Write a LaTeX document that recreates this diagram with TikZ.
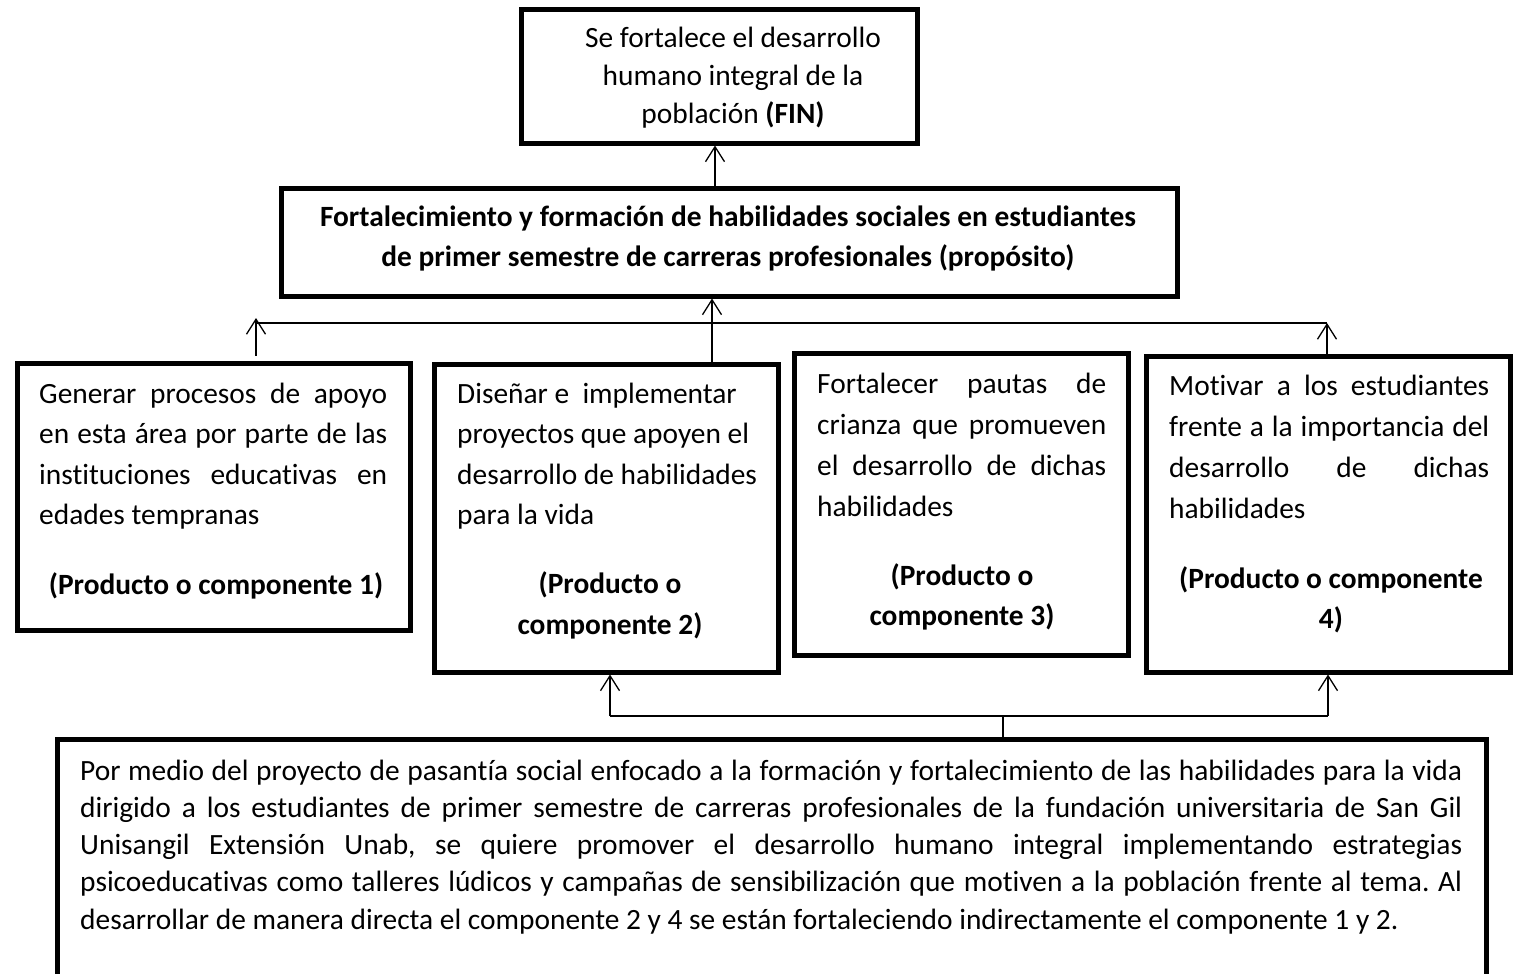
\documentclass[tikz,border=0pt]{standalone}
\usepackage{fontspec}
\setmainfont{Carlito}[Ligatures=CommonOff]
\usetikzlibrary{arrows.meta}
\newcommand{\jline}[2]{\makebox[#1][s]{#2}}
\frenchspacing
\begin{document}
\frenchspacing
\begin{tikzpicture}[x=1pt,y=-1pt,
  box/.style={draw, line width=5pt, inner sep=0pt, line join=miter},
  txt/.style={inner sep=0pt, anchor=base west},
  ctr/.style={inner sep=0pt, anchor=base, font=\fontsize{29.4}{40}\selectfont\bfseries},
  conn/.style={line width=1.3pt},
  arr/.style={line width=1.3pt, -{Straight Barb[length=15pt,width=19pt,line width=1.3pt]}}]
\useasboundingbox (0,0) rectangle (1516,974);
\fill[white] (0,0) rectangle (1516,974);
\begin{scope}
\clip (0,0) rectangle (1516,974);
% boxes
\node[box, minimum width=396pt, minimum height=133pt] (T) at (719,76.5) {};
\node[box, minimum width=896pt, minimum height=108pt] (P) at (729,242) {};
\node[box, minimum width=393pt, minimum height=267pt] (B1) at (213.5,496.5) {};
\node[box, minimum width=344pt, minimum height=308pt] (B2) at (606,518) {};
\node[box, minimum width=334pt, minimum height=302pt] (B3) at (961,504) {};
\node[box, minimum width=364pt, minimum height=316pt] (B4) at (1328,514) {};
\node[box, minimum width=1429pt, minimum height=300pt] (B5) at (771.5,889) {};
\end{scope}
% helper coordinates
\coordinate (xA) at (715,0);
\coordinate (xB) at (712,0);
\coordinate (hL) at (256,323);
\coordinate (hR) at (1327,323);
\coordinate (bm) at (1003,716);
\coordinate (bl) at (610,716);
\coordinate (br) at (1328,716);
% texts
\node[inner sep=0pt, anchor=base] (tT) at (733,48) {\parbox[t]{390pt}{\centering\fontsize{29.4}{38}\selectfont Se fortalece el desarrollo\\ humano integral de la\\ población \textbf{(FIN)}}};
\node[inner sep=0pt, anchor=base] (tP) at (728,226) {\parbox[t]{880pt}{\centering\bfseries\fontsize{29.4}{40}\selectfont Fortalecimiento y formación de habilidades sociales en estudiantes\\ de primer semestre de carreras profesionales (propósito)}};
\node[txt] (t1) at (39,403) {\parbox[t]{348pt}{\fontsize{29.4}{40.5}\selectfont
  \jline{348pt}{Generar procesos de apoyo}\\
  \jline{348pt}{en esta área por parte de las}\\
  \jline{348pt}{instituciones educativas en}\\
  edades tempranas}};
\node[ctr] (p1) at (216,594) {(Producto o componente 1)};
\node[txt] (t2) at (457,403) {\parbox[t]{320pt}{\fontsize{29.4}{40.5}\selectfont
  Diseñar e~\ implementar\\
  proyectos que apoyen el\\
  desarrollo de habilidades\\
  para la vida}};
\node[ctr] (p2a) at (610,593) {(Producto o};
\node[ctr] (p2b) at (610,634) {componente 2)};
\node[txt] (t3) at (817,393) {\parbox[t]{289pt}{\fontsize{29.4}{41}\selectfont
  \jline{289pt}{Fortalecer pautas de}\\
  \jline{289pt}{crianza que promueven}\\
  \jline{289pt}{el desarrollo de dichas}\\
  habilidades}};
\node[ctr] (p3a) at (962,585) {(Producto o};
\node[ctr] (p3b) at (962,625) {componente 3)};
\node[txt] (t4) at (1169,395) {\parbox[t]{320pt}{\fontsize{29.4}{41}\selectfont
  \jline{320pt}{Motivar a los estudiantes}\\
  \jline{320pt}{frente a la importancia del}\\
  \jline{320pt}{desarrollo de dichas}\\
  habilidades}};
\node[ctr] (p4a) at (1331,588) {(Producto o componente};
\node[ctr] (p4b) at (1331,628) {4)};
\node[txt] (t5) at (80,780) {\parbox[t]{1382pt}{\fontsize{29.4}{37.3}\selectfont
  \jline{1382pt}{Por medio del proyecto de pasantía social enfocado a la formación y fortalecimiento de las habilidades para la vida}\\
  \jline{1382pt}{dirigido a los estudiantes de primer semestre de carreras profesionales de la fundación universitaria de San Gil}\\
  \jline{1382pt}{Unisangil Extensión Unab, se quiere promover el desarrollo humano integral implementando estrategias}\\
  \jline{1382pt}{psicoeducativas como talleres lúdicos y campañas de sensibilización que motiven a la población frente al tema. Al}\\
  desarrollar de manera directa el componente 2 y 4 se están fortaleciendo indirectamente el componente 1 y 2.}};
% connectors
\draw[arr] (P.north -| xA) -- (T.south -| xA);
\draw[arr] (B2.north -| xB) -- (P.south -| xB);
\draw[conn] (hL) -- (hR);
\draw[arr, shorten <=5pt] (B1.north -| hL) -- ([yshift=5pt]hL);
\draw[arr] (B4.north -| hR) -- (hR);
\draw[conn] (B5.north -| bm) -- (bm);
\draw[conn] (bl) -- (br);
\draw[arr] (bl) -- (B2.south -| bl);
\draw[arr] (br) -- (B4.south -| br);
\end{tikzpicture}
\end{document}
